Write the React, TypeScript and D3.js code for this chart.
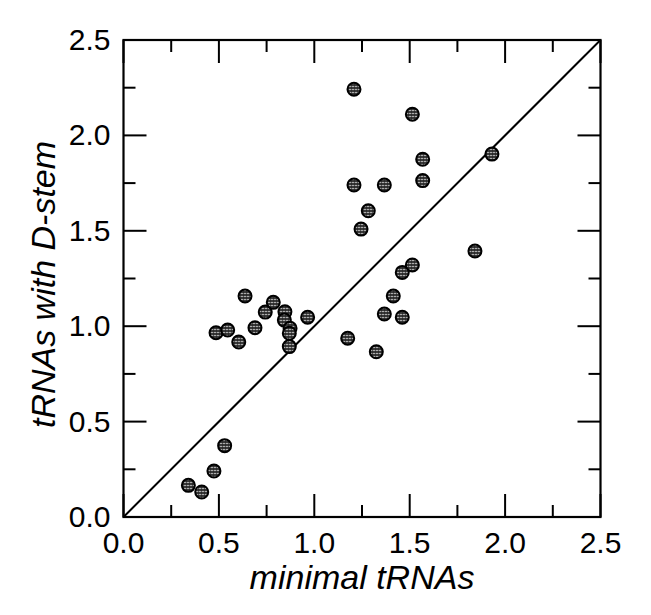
import React, { useRef, useEffect } from "react";
import * as d3 from "d3";

// minimal tRNAs (x) vs tRNAs with D-stem (y)
const minimalValues = [
  0.34, 0.41, 0.474, 0.53,
  0.485, 0.546, 0.604, 0.637, 0.689, 0.743, 0.785, 0.846, 0.843, 0.873, 0.869, 0.869, 0.965,
  1.175, 1.325, 1.367, 1.414, 1.461, 1.461, 1.514, 1.842,
  1.208, 1.245, 1.283, 1.208, 1.367, 1.568, 1.568, 1.514, 1.931,
];
const dstemValues = [
  0.166, 0.131, 0.241, 0.374,
  0.966, 0.98, 0.917, 1.158, 0.992, 1.074, 1.125, 1.076, 1.032, 0.989, 0.963, 0.893, 1.047,
  0.937, 0.866, 1.064, 1.158, 1.047, 1.282, 1.321, 1.394,
  2.242, 1.509, 1.605, 1.74, 1.74, 1.763, 1.875, 2.111, 1.902,
];
const majorTicks = [0, 0.5, 1.0, 1.5, 2.0, 2.5];
const minorTicks = [0.25, 0.75, 1.25, 1.75, 2.25];
const xLabel = "minimal tRNAs";
const yLabel = "tRNAs with D-stem";

const W = 651;
const H = 615;
const FONT = "'Liberation Sans', Arial, Helvetica, sans-serif";

const App = () => {
  const ref = useRef(null);

  useEffect(() => {
    if (!ref.current) return;
    const margin = { top: 40, right: 50.5, bottom: 98, left: 123.5 };
    const width = W - margin.left - margin.right;
    const height = H - margin.top - margin.bottom;

    const root = d3.select(ref.current);
    root.selectAll("*").remove();

    // dotted fill for the markers
    const pat = root
      .append("defs")
      .append("pattern")
      .attr("id", "dots")
      .attr("patternUnits", "userSpaceOnUse")
      .attr("width", 3)
      .attr("height", 3);
    pat.append("rect").attr("width", 3).attr("height", 3).attr("fill", "#2a2a2a");
    pat.append("circle").attr("cx", 1.5).attr("cy", 1.5).attr("r", 0.8).attr("fill", "#fff");

    const svg = root
      .append("g")
      .attr("transform", `translate(${margin.left},${margin.top})`);

    const x = d3.scaleLinear().domain([0, 2.5]).range([0, width]);
    const y = d3.scaleLinear().domain([0, 2.5]).range([height, 0]);

    // ticks on all four sides, pointing inwards
    const tickMaj = 23;
    const tickMin = 12;
    const addTicks = (vals, len) => {
      vals.forEach((v) => {
        svg.append("line").attr("x1", x(v)).attr("x2", x(v)).attr("y1", height).attr("y2", height - len);
        svg.append("line").attr("x1", x(v)).attr("x2", x(v)).attr("y1", 0).attr("y2", len);
        svg.append("line").attr("y1", y(v)).attr("y2", y(v)).attr("x1", 0).attr("x2", len);
        svg.append("line").attr("y1", y(v)).attr("y2", y(v)).attr("x1", width).attr("x2", width - len);
      });
    };
    addTicks(majorTicks, tickMaj);
    addTicks(minorTicks, tickMin);
    svg.selectAll("line").attr("stroke", "#000").attr("stroke-width", 2);

    // frame
    svg
      .append("rect")
      .attr("width", width)
      .attr("height", height)
      .attr("fill", "none")
      .attr("stroke", "#000")
      .attr("stroke-width", 2.2);

    // y = x reference line
    svg
      .append("line")
      .attr("x1", x(0))
      .attr("y1", y(0))
      .attr("x2", x(2.5))
      .attr("y2", y(2.5))
      .attr("stroke", "#000")
      .attr("stroke-width", 2);

    // tick labels
    svg
      .selectAll(".xt")
      .data(majorTicks)
      .enter()
      .append("text")
      .attr("x", (d) => x(d))
      .attr("y", height + 36)
      .attr("text-anchor", "middle")
      .attr("font-family", FONT)
      .attr("font-size", 30)
      .text((d) => d.toFixed(1));

    svg
      .selectAll(".yt")
      .data(majorTicks)
      .enter()
      .append("text")
      .attr("x", -13)
      .attr("y", (d) => y(d) + 10)
      .attr("text-anchor", "end")
      .attr("font-family", FONT)
      .attr("font-size", 30)
      .text((d) => d.toFixed(1));

    // axis titles
    svg
      .append("text")
      .attr("x", width / 2)
      .attr("y", height + 72)
      .attr("text-anchor", "middle")
      .attr("font-family", FONT)
      .attr("font-style", "italic")
      .attr("font-size", 34)
      .text(xLabel);

    svg
      .append("text")
      .attr("transform", `translate(${55 - margin.left},${height / 2 + 6}) rotate(-90)`)
      .attr("text-anchor", "middle")
      .attr("font-family", FONT)
      .attr("font-style", "italic")
      .attr("font-size", 34)
      .text(yLabel);

    // markers
    svg
      .selectAll(".marker")
      .data(minimalValues.map((v, i) => [v, dstemValues[i]]))
      .enter()
      .append("circle")
      .attr("class", "marker")
      .attr("cx", (d) => x(d[0]))
      .attr("cy", (d) => y(d[1]))
      .attr("r", 6.5)
      .attr("fill", "url(#dots)")
      .attr("stroke", "#000")
      .attr("stroke-width", 2);
  }, []);

  return (
    <svg
      ref={ref}
      width={W}
      height={H}
      style={{ position: "absolute", left: 0, top: 0, background: "#fff" }}
    ></svg>
  );
};

export default App;
